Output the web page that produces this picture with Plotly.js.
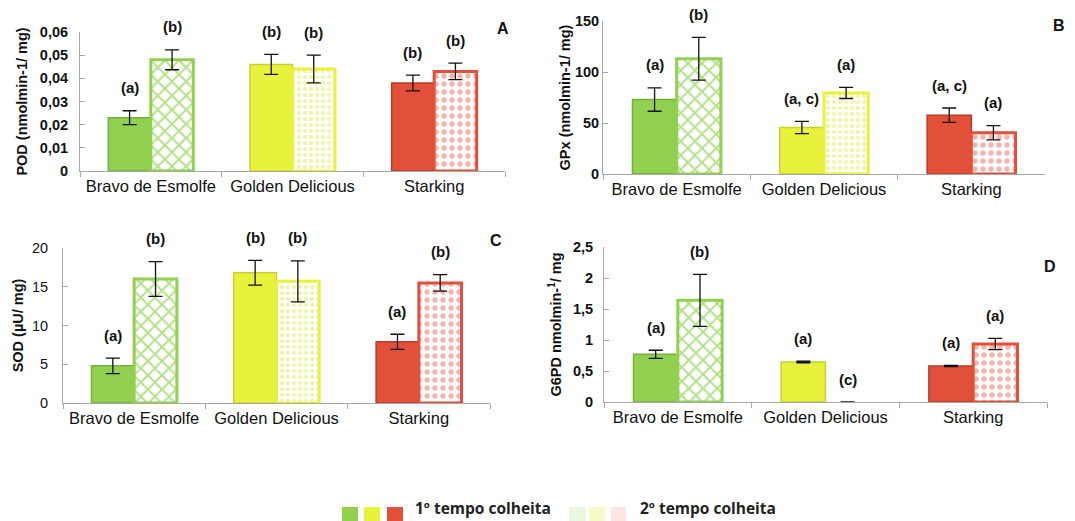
<!DOCTYPE html>
<html><head><meta charset="utf-8">
<script src="https://cdn.plot.ly/plotly-3.0.1.min.js"></script>
<style>html,body{margin:0;padding:0;background:#fff}#chart{width:1075px;height:521px}</style>
</head><body><div id="chart"></div>
<script>
// ---------- data ----------
const categories = ['Bravo de Esmolfe', 'Golden Delicious', 'Starking'];

const pod1 = [0.023, 0.046, 0.038];
const pod1Err = [0.003, 0.0043, 0.0034];
const pod2 = [0.048, 0.044, 0.043];
const pod2Err = [0.0043, 0.006, 0.0036];
const podLetters1 = ['(a)', '(b)', '(b)'];
const podLetters2 = ['(b)', '(b)', '(b)'];

const gpx1 = [73, 45.6, 57.7];
const gpx1Err = [11.5, 6, 7];
const gpx2 = [113, 79.5, 40.4];
const gpx2Err = [21, 5.5, 7];
const gpxLetters1 = ['(a)', '(a, c)', '(a, c)'];
const gpxLetters2 = ['(b)', '(a)', '(a)'];

const sod1 = [4.8, 16.8, 7.9];
const sod1Err = [1.0, 1.6, 0.97];
const sod2 = [16.0, 15.7, 15.5];
const sod2Err = [2.25, 2.65, 1.07];
const sodLetters1 = ['(a)', '(b)', '(a)'];
const sodLetters2 = ['(b)', '(b)', '(b)'];

const g6pd1 = [0.77, 0.645, 0.58];
const g6pd1Err = [0.065, 0.012, 0.01];
const g6pd2 = [1.64, 0, 0.935];
const g6pd2Err = [0.42, null, 0.09];
const g6pdLetters1 = ['(a)', '(a)', '(a)'];
const g6pdLetters2 = ['(b)', '(c)', '(a)'];

const legendLabels = ['1º tempo colheita', '2º tempo colheita'];

// ---------- styling ----------
const W = 1075, H = 521;
const fx = p => p / W;
const fy = p => 1 - p / H;
const FONT = 'Liberation Sans, Arial, sans-serif';
const fill1 = ['#92D050', '#E8F23C', '#E2503A'];
const edge1 = ['#78B03E', '#C9D12A', '#B83B28'];
const patFg = ['#B4E08A', '#F2F5A0', '#F5B4AC'];
const patShape = ['x', '.', '.'];
const patSize = [10, 6, 8];
const BARGAP = 0.4;

const panels = [
  {n: '', v1: pod1, e1: pod1Err, v2: pod2, e2: pod2Err, l1: podLetters1, l2: podLetters2,
   px: [80, 505], py: [32, 171], range: [0, 0.06], dtick: 0.01, title: 'POD (nmolmin-1/ mg)',
   standoff: 8, labStand: 8, tickBold: true, tag: 'A', tagPos: [503, 28]},
  {n: '2', v1: gpx1, e1: gpx1Err, v2: gpx2, e2: gpx2Err, l1: gpxLetters1, l2: gpxLetters2,
   px: [603, 1045], py: [21, 174], range: [0, 150], dtick: 50, title: 'GPx (nmolmin-1/ mg)',
   standoff: 0, labStand: 0, tickBold: true, tag: 'B', tagPos: [1059, 25]},
  {n: '3', v1: sod1, e1: sod1Err, v2: sod2, e2: sod2Err, l1: sodLetters1, l2: sodLetters2,
   px: [63, 490], py: [248, 403], range: [0, 20], dtick: 5, title: 'SOD (µU/ mg)',
   standoff: 4, labStand: 11, tickBold: false, tag: 'C', tagPos: [496, 240]},
  {n: '4', v1: g6pd1, e1: g6pd1Err, v2: g6pd2, e2: g6pd2Err, l1: g6pdLetters1, l2: g6pdLetters2,
   px: [604, 1047], py: [247, 402], range: [0, 2.5], dtick: 0.5, title: 'G6PD nmolmin-<sup>1</sup>/ mg',
   standoff: 7, labStand: 7, tickBold: true, tag: 'D', tagPos: [1050, 266]}
];

const traces = [];
const annotations = [];
const shapes = [];
const layout = {
  width: W, height: H,
  margin: {l: 0, r: 0, t: 0, b: 0},
  paper_bgcolor: '#ffffff', plot_bgcolor: '#ffffff',
  separators: ', ',
  barmode: 'group', bargap: BARGAP, bargroupgap: 0,
  showlegend: false,
  font: {family: FONT, color: '#111'}
};

panels.forEach(p => {
  const xa = 'x' + p.n, ya = 'y' + p.n;
  const errStyle = {type: 'data', visible: true, color: '#111', thickness: 1.3, width: 7};
  traces.push({
    type: 'bar', x: categories, y: p.v1, xaxis: xa, yaxis: ya, name: legendLabels[0],
    marker: {color: fill1, line: {color: edge1, width: 1.5}},
    error_y: Object.assign({array: p.e1}, errStyle), hoverinfo: 'skip'
  });
  traces.push({
    type: 'bar', x: categories, y: p.v2, xaxis: xa, yaxis: ya, name: legendLabels[1],
    marker: {color: '#ffffff', line: {color: fill1, width: p.v2.map(v => v === 0 ? 0 : 3)},
             pattern: {shape: patShape, fgcolor: patFg, bgcolor: '#ffffff', size: patSize, solidity: 0.35}},
    error_y: Object.assign({array: p.e2}, errStyle), hoverinfo: 'skip'
  });
  const xKey = 'xaxis' + p.n, yKey = 'yaxis' + p.n;
  layout[xKey] = {
    domain: [fx(p.px[0]), fx(p.px[1])], anchor: ya, type: 'category',
    showline: true, linecolor: '#A8A8A8', linewidth: 1,
    ticks: 'outside', tickson: 'boundaries', ticklen: 5, tickcolor: '#A8A8A8',
    tickfont: {family: FONT, size: 16.5, color: '#111'}, showgrid: false, zeroline: false,
    fixedrange: true
  };
  layout[yKey] = {
    domain: [fy(p.py[1]), fy(p.py[0])], anchor: xa, range: p.range, dtick: p.dtick,
    showline: true, linecolor: '#A8A8A8', linewidth: 1,
    ticks: 'inside', ticklen: 5, tickcolor: '#A8A8A8', showgrid: false, zeroline: false,
    ticklabelstandoff: p.labStand,
    tickfont: {family: FONT, size: 14.5, color: '#111', weight: p.tickBold ? 'bold' : 'normal'},
    title: {text: p.title, standoff: p.standoff, font: {family: FONT, size: 14.5, color: '#111', weight: 'bold'}},
    fixedrange: true
  };
  // significance letters
  const catPx = (p.px[1] - p.px[0]) / categories.length;
  const half = catPx * (1 - BARGAP) / 4;
  categories.forEach((c, i) => {
    [[p.v1, p.e1, p.l1, -half], [p.v2, p.e2, p.l2, half]].forEach(([v, e, l, sh]) => {
      annotations.push({
        xref: xa, yref: ya, x: c, y: (v[i] || 0) + (e[i] || 0), xshift: sh, yshift: 23,
        text: l[i], showarrow: false, yanchor: 'middle', xanchor: 'center',
        font: {family: FONT, size: 15, color: '#111', weight: 'bold'}
      });
    });
  });
  annotations.push({
    xref: 'paper', yref: 'paper', x: fx(p.tagPos[0]), y: fy(p.tagPos[1]),
    text: p.tag, showarrow: false, xanchor: 'center', yanchor: 'middle',
    font: {family: FONT, size: 16, color: '#111', weight: 'bold'}
  });
});

// ---------- custom legend ----------
const sw1 = [[342, 358], [364, 380], [387, 403]];
const sw2 = [[569, 586], [589, 605], [611, 626]];
const pale = ['#EAF6E0', '#F7FAC8', '#FBE6E4'];
sw1.forEach((s, i) => shapes.push({type: 'rect', xref: 'paper', yref: 'paper',
  x0: fx(s[0]), x1: fx(s[1]), y0: fy(521), y1: fy(507), fillcolor: fill1[i], line: {width: 0}}));
sw2.forEach((s, i) => shapes.push({type: 'rect', xref: 'paper', yref: 'paper',
  x0: fx(s[0]), x1: fx(s[1]), y0: fy(521), y1: fy(507), fillcolor: pale[i], line: {width: 0}}));
const legFont = {family: 'Open Sans, sans-serif', size: 15.5, color: '#222', weight: 'bold'};
annotations.push({xref: 'paper', yref: 'paper', x: fx(413), y: 0, xanchor: 'left', yanchor: 'bottom',
  text: legendLabels[0], showarrow: false, font: legFont});
annotations.push({xref: 'paper', yref: 'paper', x: fx(638), y: 0, xanchor: 'left', yanchor: 'bottom',
  text: legendLabels[1], showarrow: false, font: legFont});

layout.annotations = annotations;
layout.shapes = shapes;

Plotly.newPlot('chart', traces, layout, {displayModeBar: false, staticPlot: true});
</script></body></html>
